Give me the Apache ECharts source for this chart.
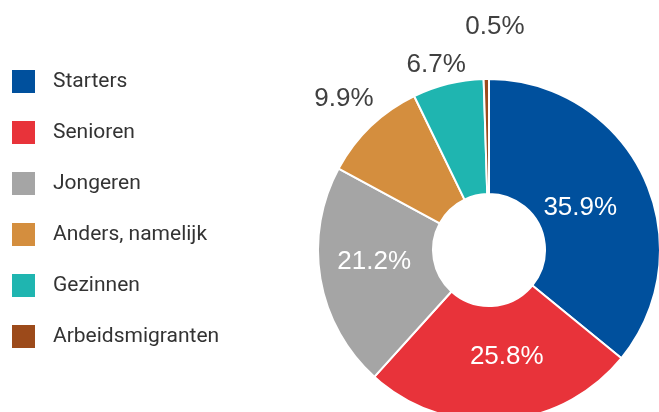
<!DOCTYPE html>
<html>
<head>
<meta charset="utf-8">
<script src="https://cdn.jsdelivr.net/npm/echarts@6/dist/echarts.min.js"></script>
<style>
  html, body { margin: 0; padding: 0; background: #fff; }
  #chart { width: 659px; height: 412px; }
</style>
</head>
<body>
<div id="chart"></div>
<script>
// Doelgroepen (share of respondents, %)
const categories = ['Starters', 'Senioren', 'Jongeren', 'Anders, namelijk', 'Gezinnen', 'Arbeidsmigranten'];
const values = [35.9, 25.8, 21.2, 9.9, 6.7, 0.5];
const colors = ['#00509D', '#E8333A', '#A5A5A5', '#D48E3E', '#1FB5B0', '#9C4A1A'];

// ring geometry
const CX = 489, CY = 250, R_IN = 56, R_OUT = 171;
const LABEL_GAP = 9;
// small per-label nudges (px) so the percentages sit comfortably in / around their slices
const labelNudge = {
  0: [-14, 8],
  1: [9, -9],
  2: [0, -8],
  4: [-5, 9],
  5: [9, -30]
};

const total = values.reduce((a, b) => a + b, 0);
function midAngle(i) {
  let acc = 0;
  for (let j = 0; j < i; j++) acc += values[j];
  return (acc + values[i] / 2) / total * Math.PI * 2; // clockwise from 12 o'clock
}

const chart = echarts.init(document.getElementById('chart'), null, { renderer: 'canvas' });

const pieData = categories.map((name, i) => {
  const inside = values[i] >= 15;
  return {
    name,
    value: values[i],
    itemStyle: { color: colors[i] },
    label: inside
      ? { position: 'inside', color: '#ffffff' }
      : { position: 'outside', color: '#404040' }
  };
});

chart.setOption({
  animation: false,
  legend: {
    orient: 'vertical',
    left: 12,
    top: 70,
    padding: 0,
    icon: 'rect',
    itemWidth: 23,
    itemHeight: 23,
    itemGap: 28,
    itemStyle: { borderWidth: 0 },
    data: categories,
    textStyle: {
      fontFamily: 'Roboto',
      fontSize: 21,
      color: '#333333',
      padding: [0, 0, 0, 13]
    }
  },
  series: [{
    type: 'pie',
    center: [CX, CY],
    radius: [R_IN, R_OUT],
    startAngle: 90,
    clockwise: true,
    avoidLabelOverlap: false,
    itemStyle: { borderColor: '#ffffff', borderWidth: 2 },
    label: {
      show: true,
      formatter: p => p.value.toFixed(1) + '%',
      fontFamily: 'Liberation Sans',
      fontSize: 26
    },
    labelLine: { show: false },
    labelLayout: params => {
      const i = params.dataIndex;
      const n = labelNudge[i] || [0, 0];
      if (values[i] >= 15) return { dx: n[0], dy: n[1] };
      const a = midAngle(i);
      const dx = Math.sin(a), dy = -Math.cos(a);
      const w = params.labelRect.width, h = params.labelRect.height;
      const ext = Math.abs(dx) * w / 2 + Math.abs(dy) * h / 2;
      const d = R_OUT + LABEL_GAP + ext;
      return {
        x: CX + dx * d + n[0],
        y: CY + dy * d + n[1],
        align: 'center',
        verticalAlign: 'middle'
      };
    },
    emphasis: { disabled: true },
    data: pieData
  }]
});
</script>
</body>
</html>
